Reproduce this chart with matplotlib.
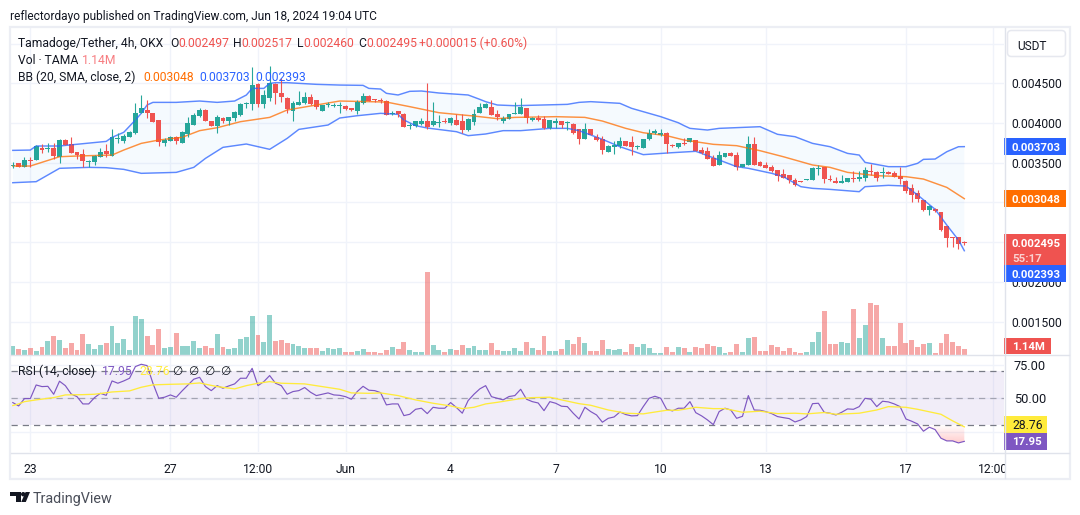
import numpy as np
import matplotlib
matplotlib.use('Agg')
import matplotlib.pyplot as plt
from matplotlib.patches import Rectangle, FancyBboxPatch, Polygon, Circle

plt.rcParams['font.family'] = ['Roboto', 'DejaVu Sans']

# 4h candles, prices in millionths of a USDT
open_ = [3459,3493,3451,3535,3535,3681,3677,3681,3576,3786,
         3736,3635,3610,3514,3509,3576,3648,3585,3803,3778,
         3820,3878,4130,4164,4126,4034,3748,3774,3820,3753,
         3866,3979,4088,4164,4030,3958,4067,4030,4067,4097,
         4235,4239,4491,4239,4311,4491,4382,4319,4155,4231,
         4248,4323,4290,4155,4227,4214,4210,4214,4193,4155,
         4256,4340,4298,4281,4277,4118,4151,4113,3967,3967,
         3988,4025,3971,4004,4025,3996,4038,4025,3908,4009,
         4126,4189,4201,4113,4025,4055,4118,4113,4189,4038,
         4063,4050,3933,4004,4025,4003,3988,3925,3799,3925,
         3824,3799,3639,3698,3711,3774,3761,3702,3686,3799,
         3874,3849,3874,3723,3698,3744,3765,3786,3660,3648,
         3560,3472,3576,3623,3597,3446,3472,3736,3509,3472,
         3446,3409,3358,3346,3287,3270,3283,3283,3425,3446,
         3295,3270,3249,3258,3308,3295,3308,3396,3383,3367,
         3388,3371,3333,3270,3182,3115,3035,2905,2922,2880,
         2704,2565,2565,2497]
high = [3514,3493,3568,3576,3723,3736,3753,3744,3795,3799,
        3820,3635,3669,3535,3597,3681,3736,3925,3870,3862,
        3904,4256,4352,4290,4126,4034,3807,3837,3837,3904,
        4080,4122,4193,4172,4030,4101,4080,4080,4155,4256,
        4269,4709,4508,4415,4717,4499,4562,4323,4281,4407,
        4394,4365,4290,4227,4269,4248,4269,4227,4193,4290,
        4374,4357,4298,4315,4285,4151,4151,4122,3996,4025,
        4059,4499,4264,4097,4059,4080,4109,4109,4059,4172,
        4256,4256,4290,4164,4092,4113,4264,4315,4189,4080,
        4097,4088,4038,4063,4025,4025,3996,3925,3996,3925,
        3862,3837,3723,3769,3824,3774,3837,3723,3799,3925,
        3925,3925,3883,3732,3753,3807,3811,3786,3694,3694,
        3593,3644,3623,3639,3631,3484,3837,3820,3522,3509,
        3472,3409,3417,3346,3308,3270,3291,3442,3472,3446,
        3346,3325,3346,3308,3396,3396,3446,3484,3396,3442,
        3396,3400,3442,3283,3232,3157,3035,2968,2930,2880,
        2704,2565,2565,2517]
low = [3430,3451,3451,3451,3535,3618,3639,3543,3501,3719,
       3618,3551,3451,3451,3472,3576,3576,3585,3744,3744,
       3820,3862,4122,4067,4017,3711,3711,3774,3736,3753,
       3820,3975,4080,4030,3962,3878,3996,3975,4030,4088,
       4185,4164,4206,4185,4281,4239,4269,4130,4030,4231,
       4239,4227,4172,4155,4197,4197,4122,4164,4151,4113,
       4239,4273,4260,4256,4101,4101,4080,3946,3925,3950,
       3979,3929,3962,3954,3996,3975,3975,3874,3899,3979,
       4122,4189,4097,4038,4000,4046,4118,4113,4000,4030,
       4025,3925,3920,3941,3933,3912,3862,3736,3799,3849,
       3778,3610,3631,3610,3686,3711,3602,3669,3686,3786,
       3862,3837,3618,3702,3686,3723,3765,3652,3606,3547,
       3459,3472,3576,3589,3409,3446,3472,3472,3459,3434,
       3388,3270,3304,3241,3207,3262,3283,3283,3346,3249,
       3266,3249,3249,3258,3258,3270,3270,3346,3274,3308,
       3354,3325,3232,3119,3006,3006,2893,2842,2880,2641,
       2440,2440,2414,2460]
close = [3467,3451,3535,3526,3711,3660,3686,3585,3786,3727,
         3623,3602,3518,3522,3585,3635,3606,3820,3811,3837,
         3883,4122,4189,4130,4017,3757,3786,3824,3769,3887,
         4003,4097,4164,4030,3962,4076,4025,4076,4134,4239,
         4243,4478,4239,4352,4499,4382,4332,4172,4256,4269,
         4323,4239,4206,4227,4235,4222,4218,4181,4160,4264,
         4340,4281,4290,4273,4105,4122,4113,3950,3971,4025,
         4025,3950,4021,4013,4013,4059,3975,3908,4050,4113,
         4201,4239,4101,4076,4063,4113,4126,4201,4067,4063,
         4038,3933,4038,4025,3979,4012,3874,3799,3925,3849,
         3786,3660,3711,3723,3774,3711,3698,3711,3799,3874,
         3899,3874,3736,3715,3744,3736,3811,3652,3618,3547,
         3463,3597,3623,3589,3446,3484,3736,3472,3463,3434,
         3396,3333,3308,3283,3220,3262,3291,3434,3434,3295,
         3283,3249,3270,3308,3300,3321,3409,3383,3308,3375,
         3362,3325,3295,3144,3094,3044,2905,2960,2888,2654,
         2553,2557,2480,2495]

# volume in millions of TAMA
volume = [1.79,1.15,0.93,1.36,0.72,1.58,2.87,3.94,3.08,1.36,
          2.44,0.93,4.37,2.22,1.15,2.01,2.44,6.09,2.44,3.30,
          0.93,8.25,7.60,3.94,2.01,5.45,1.36,1.58,4.59,1.79,
          1.79,2.87,1.36,1.79,1.36,4.37,1.58,1.15,1.36,3.30,
          3.73,8.25,4.16,2.65,8.46,2.87,3.08,2.44,2.22,1.79,
          1.36,1.36,1.36,0.72,1.36,1.15,1.36,0.50,0.50,0.72,
          1.15,0.50,0.50,0.29,0.93,1.58,1.15,2.65,0.93,0.50,
          0.50,17.71,2.01,0.93,0.50,1.15,0.93,2.01,1.36,1.79,
          0.93,0.93,2.44,0.93,0.72,0.72,1.36,0.72,2.65,1.36,
          0.93,3.94,0.72,0.72,1.15,3.08,2.22,3.73,2.44,0.72,
          0.72,3.08,1.15,0.93,1.15,0.50,2.22,1.58,2.22,1.36,
          0.29,0.29,1.58,0.50,1.58,1.36,0.50,1.58,1.36,2.22,
          1.79,1.58,0.29,0.50,2.22,0.50,3.51,3.73,0.72,0.72,
          2.01,1.58,0.72,1.36,0.50,0.29,0.50,2.65,4.80,9.32,
          2.22,2.22,2.65,2.44,9.75,3.51,6.31,11.04,10.61,3.51,
          1.79,1.79,6.74,2.44,3.08,1.58,2.22,2.44,0.29,2.44,
          4.37,2.65,1.79,1.14]

# Bollinger bands, (candle, price) readings
bb_upper_idx = [0,3,4,8,16,17,19,21,22,23,24,28,32,35,38,40,41,43,44,45,47,52,56,60,61,63,64,
                66,68,70,73,78,80,81,83,86,95,97,99,104,106,108,111,114,115,116,119,121,128,
                131,134,137,140,143,145,146,150,153,155,156,158,160,162,163]
bb_upper = [3656,3660,3711,3711,3769,3820,3883,4038,4122,4227,4260,4260,4277,4260,4277,4352,4436,
            4436,4499,4508,4508,4487,4478,4474,4436,4428,4374,4353,4399,4403,4378,4353,4298,4269,
            4227,4218,4235,4260,4269,4248,4185,4143,4080,4004,3967,3933,3912,3933,3954,3858,3828,
            3744,3702,3618,3597,3505,3451,3451,3493,3543,3547,3639,3702,3703]
bb_mid_idx = [0,3,8,11,17,19,22,25,29,32,35,39,44,47,52,56,64,68,73,79,83,86,93,98,101,105,108,
              112,115,120,124,128,132,137,140,143,148,153,156,160,163]
bb_mid = [3459,3459,3576,3585,3597,3660,3744,3786,3820,3904,3941,4017,4071,4164,4227,4277,4264,
          4206,4130,4088,4055,4071,4080,4071,4025,3933,3878,3841,3786,3732,3715,3652,3576,3472,
          3442,3379,3337,3325,3295,3190,3048]
bb_lower_idx = [0,4,6,8,13,16,19,22,28,31,33,36,40,44,47,49,54,56,59,63,66,67,69,71,76,78,81,84,
                87,92,95,97,101,104,108,113,117,118,124,126,130,132,135,137,140,145,146,150,153,
                155,158,160,162,163]
bb_lower = [3249,3262,3346,3430,3442,3438,3417,3367,3379,3442,3555,3694,3736,3669,3807,3920,3975,
            4063,4092,4122,4109,4038,3967,3937,3891,3841,3862,3904,3904,3933,3933,3904,3795,3702,
            3602,3627,3644,3618,3451,3430,3367,3325,3199,3178,3165,3136,3199,3216,3207,3094,2914,
            2716,2528,2393]

rsi = [46.8,44.3,49.8,49.8,59.9,58.7,58.9,53.0,62.7,59.4,53.2,51.2,45.8,45.8,50.5,53.7,52.2,62.9,
       61.2,62.9,64.9,73.6,75.3,74.3,61.2,50.0,50.8,52.5,50.8,55.5,59.9,64.2,65.6,58.7,55.7,59.4,
       57.5,59.2,60.7,64.9,64.9,72.3,59.4,62.4,66.9,61.2,59.4,53.0,55.0,55.7,58.0,54.5,52.0,53.0,
       54.0,52.5,52.2,51.2,49.3,55.0,58.9,56.0,55.7,54.2,45.1,45.8,45.8,37.1,38.1,41.8,42.6,38.6,
       43.3,42.6,42.6,46.8,43.1,38.9,48.3,53.0,57.0,59.4,51.2,50.0,
       48.8,51.3,52.0,56.7,49.3,47.5,46.5,40.8,47.5,46.3,44.1,43.8,38.9,34.6,43.3,40.1,37.6,32.2,
       35.1,36.1,39.8,37.9,36.9,37.1,43.8,50.0,51.5,50.0,41.8,40.6,42.6,42.6,47.5,39.3,36.9,33.9,
       30.4,40.1,42.6,41.3,35.1,36.6,52.0,41.3,41.1,40.1,38.6,36.4,35.6,34.9,32.4,33.9,36.4,46.0,
       46.3,39.6,38.9,37.6,39.6,42.1,41.8,43.8,50.0,49.3,43.8,47.8,47.3,45.8,43.8,34.6,32.9,30.9,
       25.5,28.5,26.7,20.3,18.3,18.3,16.8,17.95]
rsi_ma_idx = [0,1,2,4,7,9,12,14,17,20,22,24,27,30,32,35,38,40,42,44,46,50,53,56,58,61,63,66,69,72,
              75,77,79,81,83,87,89,92,94,97,99,102,105,108,109,112,114,117,120,122,125,128,131,134,
              136,139,141,145,148,150,153,155,159,161,163]
rsi_ma = [44.6,45.8,47.5,48.8,50.5,52.5,52.7,53.0,54.7,55.5,58.2,60.0,60.4,60.7,61.4,58.7,57.0,59.4,
          61.2,62.4,61.2,60.7,58.7,56.7,54.0,53.7,54.0,52.0,48.8,46.3,44.3,42.3,43.3,45.8,47.0,
          49.8,50.5,50.8,48.8,46.0,44.8,41.3,38.9,38.4,39.1,41.1,41.1,43.3,42.3,42.3,39.6,40.4,38.6,
          38.9,38.4,39.4,38.1,38.9,41.3,43.8,43.3,41.8,38.1,33.2,28.76]

time_ticks = [3, 27, 42, 57, 75, 93, 111, 129, 153, 168]
time_labels = ['23', '27', '12:00', 'Jun', '4', '7', '10', '13', '17', '12:00']
price_ticks = [0.0015, 0.0020, 0.0025, 0.0030, 0.0035, 0.0040, 0.0045, 0.0050]
price_labels = ['0.001500', '0.002000', '', '', '0.003500', '0.004000', '0.004500', '']
rsi_ticks = [25, 50, 75]
rsi_labels = ['', '50.00', '75.00']

GREEN = '#26a69a'
RED = '#ef5350'
BLUE = '#2962ff'
ORANGE = '#ff6d00'
PURPLE = '#7e57c2'
YELLOW = '#ffeb3b'
TEXT = '#131722'
GRID = '#f0f3fa'
BORDER = '#e0e3eb'

to_price = lambda vals: np.array(vals) * 1e-6
o, h, l, c = to_price(open_), to_price(high), to_price(low), to_price(close)
idx = np.arange(len(o))
colors = [GREEN if cc >= oo else RED for oo, cc in zip(o, c)]

W, H = 1080, 515
fig = plt.figure(figsize=(W / 100, H / 100), dpi=100, facecolor='white')


def pane(x0, y0, x1, y1, **kw):
    return fig.add_axes([x0 / W, 1 - y1 / H, (x1 - x0) / W, (y1 - y0) / H], **kw)


XLIM = (-0.31, 169.8)
SIZE = 8.7

# volume sits underneath the price pane
ax_vol = pane(11, 28, 1004, 354.5)
ax_vol.set_xlim(XLIM)
ax_vol.set_ylim(0, 70.2)
ax_vol.axis('off')
ax_vol.set_zorder(1)
ax_vol.bar(idx, volume, width=0.84, color=colors, alpha=0.5, linewidth=0)

ax = pane(11, 28, 1004, 354.5, sharex=None)
ax.set_zorder(0)
ax.set_xlim(XLIM)
ax.set_ylim(0.0010872, 0.0051959)
ax.set_xticks(time_ticks)
ax.set_xticklabels([])
ax.set_yticks(price_ticks)
ax.set_yticklabels(price_labels, fontsize=SIZE, color=TEXT)
ax.yaxis.tick_right()
ax.tick_params(length=0, pad=5.5)
ax.grid(True, color=GRID, linewidth=1)
ax.set_axisbelow(True)
for s in ax.spines.values():
    s.set_visible(False)

ax_top = pane(11, 28, 1004, 354.5)
ax_top.set_zorder(2)
ax_top.set_xlim(XLIM)
ax_top.set_ylim(ax.get_ylim())
ax_top.axis('off')

# bands
ux, lx = np.array(bb_upper_idx), np.array(bb_lower_idx)
u, lo = to_price(bb_upper), to_price(bb_lower)
ax_top.fill(np.r_[ux, lx[::-1]], np.r_[u, lo[::-1]], color='#2196f3', alpha=0.045, linewidth=0)
ax_top.plot(ux, u, color=BLUE, lw=1.05, alpha=0.75)
ax_top.plot(lx, lo, color=BLUE, lw=1.05, alpha=0.75)
ax_top.plot(bb_mid_idx, to_price(bb_mid), color=ORANGE, lw=1.05, alpha=0.75)

# candles
ax_top.vlines(idx, l, h, colors=colors, linewidth=0.8)
body_low = np.minimum(o, c)
body_h = np.maximum(np.abs(c - o), 1.2e-5)
ax_top.bar(idx, body_h, bottom=body_low, width=0.84, color=colors, linewidth=0)

# rsi pane
ax_rsi = pane(11, 355, 1004, 452)
ax_rsi.set_xlim(XLIM)
ax_rsi.set_ylim(10.04, 82.2)
ax_rsi.set_xticks(time_ticks)
ax_rsi.set_xticklabels(time_labels, fontsize=SIZE, color=TEXT)
ax_rsi.set_yticks(rsi_ticks)
ax_rsi.set_yticklabels(rsi_labels, fontsize=9.2, color=TEXT)
ax_rsi.yaxis.tick_right()
ax_rsi.tick_params(axis='y', length=0, pad=7)
ax_rsi.tick_params(axis='x', length=0, pad=8)
ax_rsi.grid(True, color=GRID, linewidth=1)
ax_rsi.set_axisbelow(True)
for s in ax_rsi.spines.values():
    s.set_visible(False)
ax_rsi.axhspan(30, 70, color=PURPLE, alpha=0.1, linewidth=0)
for level, a in ((70, 1), (50, 0.6), (30, 1)):
    ax_rsi.axhline(level, color='#787b86', lw=0.9, ls=(0, (5, 4)), alpha=a)

# oversold shading below the 30 line
r = np.array(rsi)
below = ax_rsi.fill_between(idx[155:], r[155:], 30, where=r[155:] < 30, interpolate=True,
                            facecolor='none', linewidth=0)
grad = np.zeros((64, 1, 4))
grad[..., :3] = matplotlib.colors.to_rgb('#ff5252')
grad[:, 0, 3] = np.linspace(0.32, 0.0, 64)
im = ax_rsi.imshow(grad, extent=(155, 164, 15, 30), origin='lower', aspect='auto', zorder=2)
im.set_clip_path(below.get_paths()[0], transform=ax_rsi.transData)
ax_rsi.set_xlim(XLIM)
ax_rsi.set_ylim(10.04, 82.2)

ax_rsi.plot(idx, rsi, color=PURPLE, lw=0.85, zorder=3)
ax_rsi.plot(rsi_ma_idx, rsi_ma, color=YELLOW, lw=0.95, zorder=3)

# frame, flags and legends in pixel coordinates on top of everything
bg = fig.add_axes([0, 0, 1, 1], zorder=5)
bg.set_xlim(0, W)
bg.set_ylim(H, 0)
bg.axis('off')
bg.patch.set_alpha(0)

bg.add_patch(Rectangle((1004.5, 453), 64.5, 25.5, facecolor='white', edgecolor='none'))
bg.add_patch(Rectangle((10, 27), 1060, 452, fill=False, edgecolor='#eceef4', lw=1.6))
bg.plot([11, 1069], [354.5, 354.5], color=BORDER, lw=1.0)
bg.plot([11, 1069], [452.5, 452.5], color=BORDER, lw=1.0)
bg.plot([1004.5, 1004.5], [28, 478], color=BORDER, lw=1.0)


def y_px(axis, value):
    return H - axis.transData.transform((0, value))[1]


def flag(center, text, color, right=1066, tcolor='white', height=16.7):
    bg.add_patch(Rectangle((1004, center - height / 2), right - 1004, height,
                           facecolor=color, edgecolor='none'))
    bg.text(1012, center, text, color=tcolor, fontsize=8.2 if tcolor == 'white' else SIZE,
            fontweight='bold' if tcolor == 'white' else 'normal',
            va='center_baseline', ha='left')


flag(y_px(ax, 0.003703), '0.003703', BLUE)
flag(y_px(ax, 0.003048), '0.003048', ORANGE)
pos = y_px(ax, 0.002495)
bg.add_patch(Rectangle((1004, pos - 8.4), 62, 31, facecolor=RED, edgecolor='none'))
bg.text(1012, pos, '0.002495', color='white', fontsize=8.2, fontweight='bold', va='center_baseline')
bg.text(1012, pos + 15, '55:17', color='#fbd0cf', fontsize=8.2, fontweight='bold', va='center_baseline')
flag(pos + 30.9, '0.002393', BLUE)
flag(346, '1.14M', RED, right=1051)
flag(y_px(ax_rsi, 17.95), '17.95', PURPLE, right=1047)
flag(y_px(ax_rsi, 17.95) - 17, '28.76', YELLOW, right=1047, tcolor=TEXT)

bg.add_patch(FancyBboxPatch((1009, 32), 55, 23, boxstyle='round,pad=1.5,rounding_size=4',
                            facecolor='white', edgecolor='#e6e8ef', lw=1.1))
bg.text(1017, 44.5, 'USDT', color=TEXT, fontsize=8.6, va='center_baseline')


def label(x, y, text, color=TEXT, size=SIZE):
    bg.text(x, y, text, color=color, fontsize=size, va='center_baseline', ha='left')


label(10, 15, 'reflectordayo published on TradingView.com, Jun 18, 2024 19:04 UTC', size=8.6)

label(18, 42, 'Tamadoge/Tether, 4h, OKX')
for x, s in ((170, 'O'), (233, 'H'), (297, 'L'), (358, 'C')):
    label(x, 42, s)
for x, s in ((178, '0.002497'), (241, '0.002517'), (303, '0.002460'), (366, '0.002495'),
             (419, '+0.000015 (+0.60%)')):
    label(x, 42, s, color=RED)

label(18, 59, 'Vol · TAMA')
label(82, 59, '1.14M', color='#f77c80')

label(18, 76, 'BB (20, SMA, close, 2)')
label(143, 76, '0.003048', color=ORANGE)
label(199, 76, '0.003703', color=BLUE)
label(255, 76, '0.002393', color=BLUE)

label(18, 370, 'RSI (14, close)')
label(102, 370, '17.95', color=PURPLE)
label(139, 370, '28.76', color=YELLOW)
for x in (177, 193, 209, 225):
    bg.text(x, 370, '∅', color=TEXT, fontsize=8.5, va='center_baseline', ha='center')

# logo and wordmark under the chart
bg.add_patch(Polygon([(10, 492), (20.5, 492), (20.5, 502), (15.5, 502), (15.5, 496.4), (10, 496.4)],
                     facecolor=TEXT, edgecolor='none'))
bg.add_patch(Circle((23.2, 494.2), 2.2, facecolor=TEXT, edgecolor='none'))
bg.add_patch(Polygon([(25.6, 492), (30, 492), (25.8, 502), (21.2, 502)], facecolor=TEXT, edgecolor='none'))
label(33, 497, 'TradingView', color='#4a4e59', size=10.4)

fig.savefig('out.png', dpi=100)
